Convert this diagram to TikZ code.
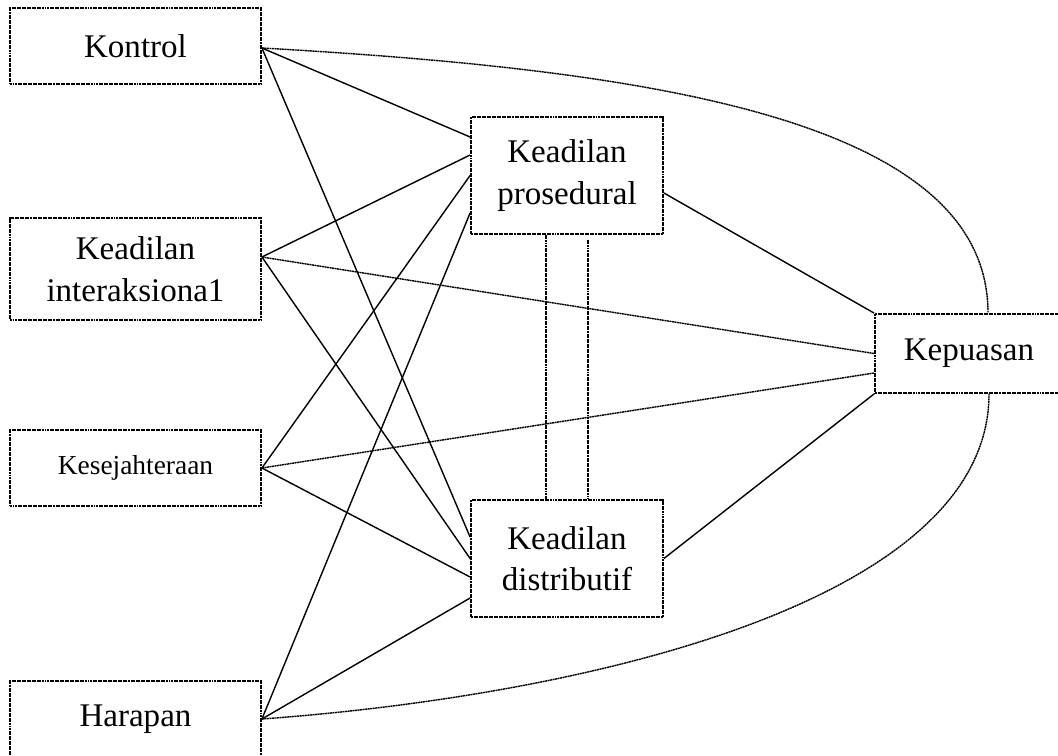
\documentclass[tikz,border=0pt]{standalone}
\usepackage{fontspec}
\setmainfont{Liberation Serif}
\usetikzlibrary{positioning,calc}
\tikzset{
    block/.style={rectangle, draw, dash pattern=on 1.4pt off 0.4pt, align=center, minimum width=6.275cm, minimum height=1.9cm, inner sep=0pt, font=\fontsize{23.5}{29.5}\selectfont, line width=1.3pt},
    midblock/.style={block, minimum width=4.8cm, minimum height=2.925cm},
    line/.style={draw, line width=1pt},
    dotline/.style={line, dash pattern=on 1.4pt off 0.4pt}
}
\begin{document}
\begin{tikzpicture}[node distance=5.575cm]
    \useasboundingbox (0,0) rectangle (26.45,-18.875);
    \node [block] (kontrol) at (3.3875,-1.15) {Kontrol};
    \node [block, below of=kontrol, minimum height=2.55cm] (inter) {Keadilan\\interaksiona1};
    \node [block, below of=inter, node distance=4.975cm, font=\fontsize{19.5}{23}\selectfont] (sejahtera) {Kesejahteraan};
    \node [block, below of=sejahtera, node distance=6.275cm] (harapan) {Harapan};
    \node [midblock] (prosedural) at (14.175,-4.3875) {Keadilan\\prosedural};
    \node [midblock, below of=prosedural, node distance=9.575cm] (distributif) {Keadilan\\distributif};
    \node [block, minimum width=4.7cm, minimum height=1.975cm] (kepuasan) at (24.225,-8.8375) {Kepuasan};

    % where the lines leave the left boxes
    \coordinate (kontrolport) at ([yshift=-0.05cm]kontrol.east);
    \coordinate (interport) at ([yshift=0.3cm]inter.east);

    \path [line] (kontrolport) -- ([yshift=0.9625cm]prosedural.west);
    \path [line] (kontrolport) -- ([yshift=0.5375cm]distributif.west);
    \path [dotline] (kontrolport) .. controls +(9.7,-0.55) and +(0,4.85) .. ([xshift=0.475cm]kepuasan.north);

    \path [line] (interport) -- ([yshift=0.5125cm]prosedural.west);
    \path [line] (interport) -- (distributif.west);
    \path [dotline] (interport) -- (kepuasan.west);

    \path [line] (sejahtera.east) -- (prosedural.west);
    \path [line] (sejahtera.east) -- ([yshift=-0.4625cm]distributif.west);
    \path [dotline] (sejahtera.east) -- ([yshift=-0.4875cm]kepuasan.west);

    \path [line] (harapan.east) -- ([yshift=-0.9375cm]prosedural.west);
    \path [line] (harapan.east) -- ([yshift=-0.9875cm]distributif.west);
    \path [dotline] (harapan.east) .. controls +(8.2,0.6) and +(0,-5.175) .. ([xshift=0.5cm]kepuasan.south);

    \path [line] ([yshift=-0.4375cm]prosedural.east) -- (kepuasan.north west);
    \path [line] (distributif.east) -- (kepuasan.south west);
    \path [dotline] ([xshift=-0.525cm]prosedural.south) -- ([xshift=-0.525cm]distributif.north);
    \path [dotline] ([xshift=0.525cm,yshift=-0.125cm]prosedural.south) -- ([xshift=0.525cm]distributif.north);
\end{tikzpicture}
\end{document}
